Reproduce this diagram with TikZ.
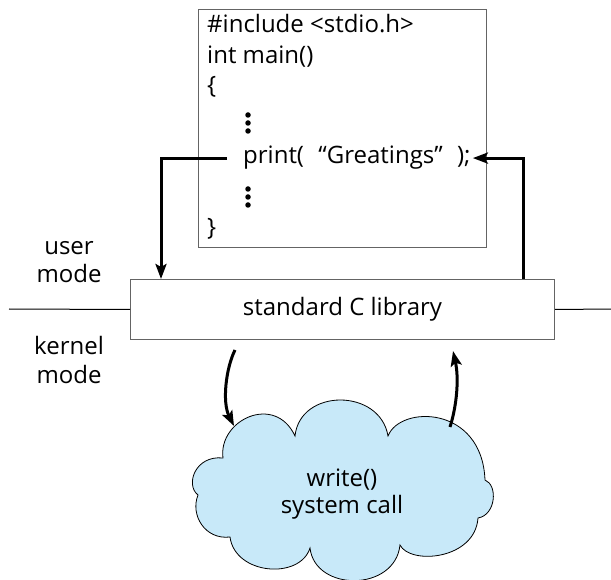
\documentclass[tikz,border=0pt]{standalone}
\usepackage{fontspec}
\setmainfont{Open Sans}
\usetikzlibrary{arrows.meta}
\definecolor{cloudblue}{RGB}{200,233,249}
\definecolor{boxgray}{RGB}{100,100,100}
\begin{document}
\begin{tikzpicture}[x=1pt,y=-1pt,
  txt/.style={inner sep=0pt, font=\fontsize{24}{28}\selectfont},
  box/.style={draw=boxgray, line width=1pt, inner sep=0pt},
  sep/.style={draw=black, line width=1pt},
  flow/.style={draw=black, line width=3pt, -{Stealth[length=15pt,width=11pt,inset=3pt]}},
  dot/.style={circle, fill=black, inner sep=0pt, minimum size=5.5pt},
]
\useasboundingbox (0,0) rectangle (611,580);

% code box
\node[box, anchor=north west, minimum width=288pt, minimum height=238pt] (code) at (198,9) {};
\node[txt, anchor=base west] (l1) at (207,33) {\#include <stdio.h>};
\node[txt, anchor=base west] (l2) at (207,64) {int main()};
\node[txt, anchor=base west] (l3) at (207,94) {\{};
\node[txt, anchor=base west] (print) at (243,164) {print(\hspace{0.6em}“Greatings”\hspace{0.6em});};
\node[txt, anchor=base west] (l5) at (207,236) {\}};
\foreach \y [count=\i] in {115,123,131} \node[dot] (da\i) at (248,\y) {};
\foreach \y [count=\i] in {189,197,205} \node[dot] (db\i) at (248,\y) {};

% library box
\node[box, txt, anchor=north west, minimum width=424pt, minimum height=60pt] (lib) at (130,279) {standard C library};

% separator
\coordinate (sepL) at (9,309);
\coordinate (sepR) at (612,309);
\draw[sep] (sepL) -- (lib.west);
\draw[sep] (lib.east) -- (sepR);

% mode labels
\node[txt, anchor=base] (u1) at (69,255) {user};
\node[txt, anchor=base] (u2) at (69,283) {mode};
\node[txt, anchor=base] (k1) at (69,355) {kernel};
\node[txt, anchor=base] (k2) at (69,383) {mode};

% call / return arrows
\coordinate (xl) at (161,0);
\coordinate (xr) at (523,0);
\draw[flow] ([xshift=-16pt]print.west) -| (lib.north -| xl);
\draw[flow] (lib.north -| xr) |- ([xshift=2pt]print.east);

% cloud
\path[draw=black, line width=0.8pt, fill=cloudblue]
  (223,458) .. controls (218,420) and (275,393) .. (295,436)
  .. controls (300,388) and (380,388) .. (388,436)
  .. controls (400,405) and (482,405) .. (485,480)
  .. controls (498,485) and (496,515) .. (478,518)
  .. controls (475,560) and (410,565) .. (400,545)
  .. controls (395,592) and (315,592) .. (310,548)
  .. controls (300,580) and (235,575) .. (230,537)
  .. controls (205,540) and (190,515) .. (198,495)
  .. controls (185,485) and (195,455) .. (223,458) -- cycle;
\node[txt, anchor=base] (w1) at (342,486) {write()};
\node[txt, anchor=base] (w2) at (342,513) {system call};

% kernel arrows
\coordinate (c1) at (235,350);
\coordinate (c2) at (234,426);
\coordinate (r1) at (450,427);
\coordinate (r2) at (453,351);
\draw[flow] (c1) .. controls (226,368) and (222,402) .. (c2);
\draw[flow] (r1) .. controls (457,405) and (459,378) .. (r2);
\end{tikzpicture}
\end{document}
